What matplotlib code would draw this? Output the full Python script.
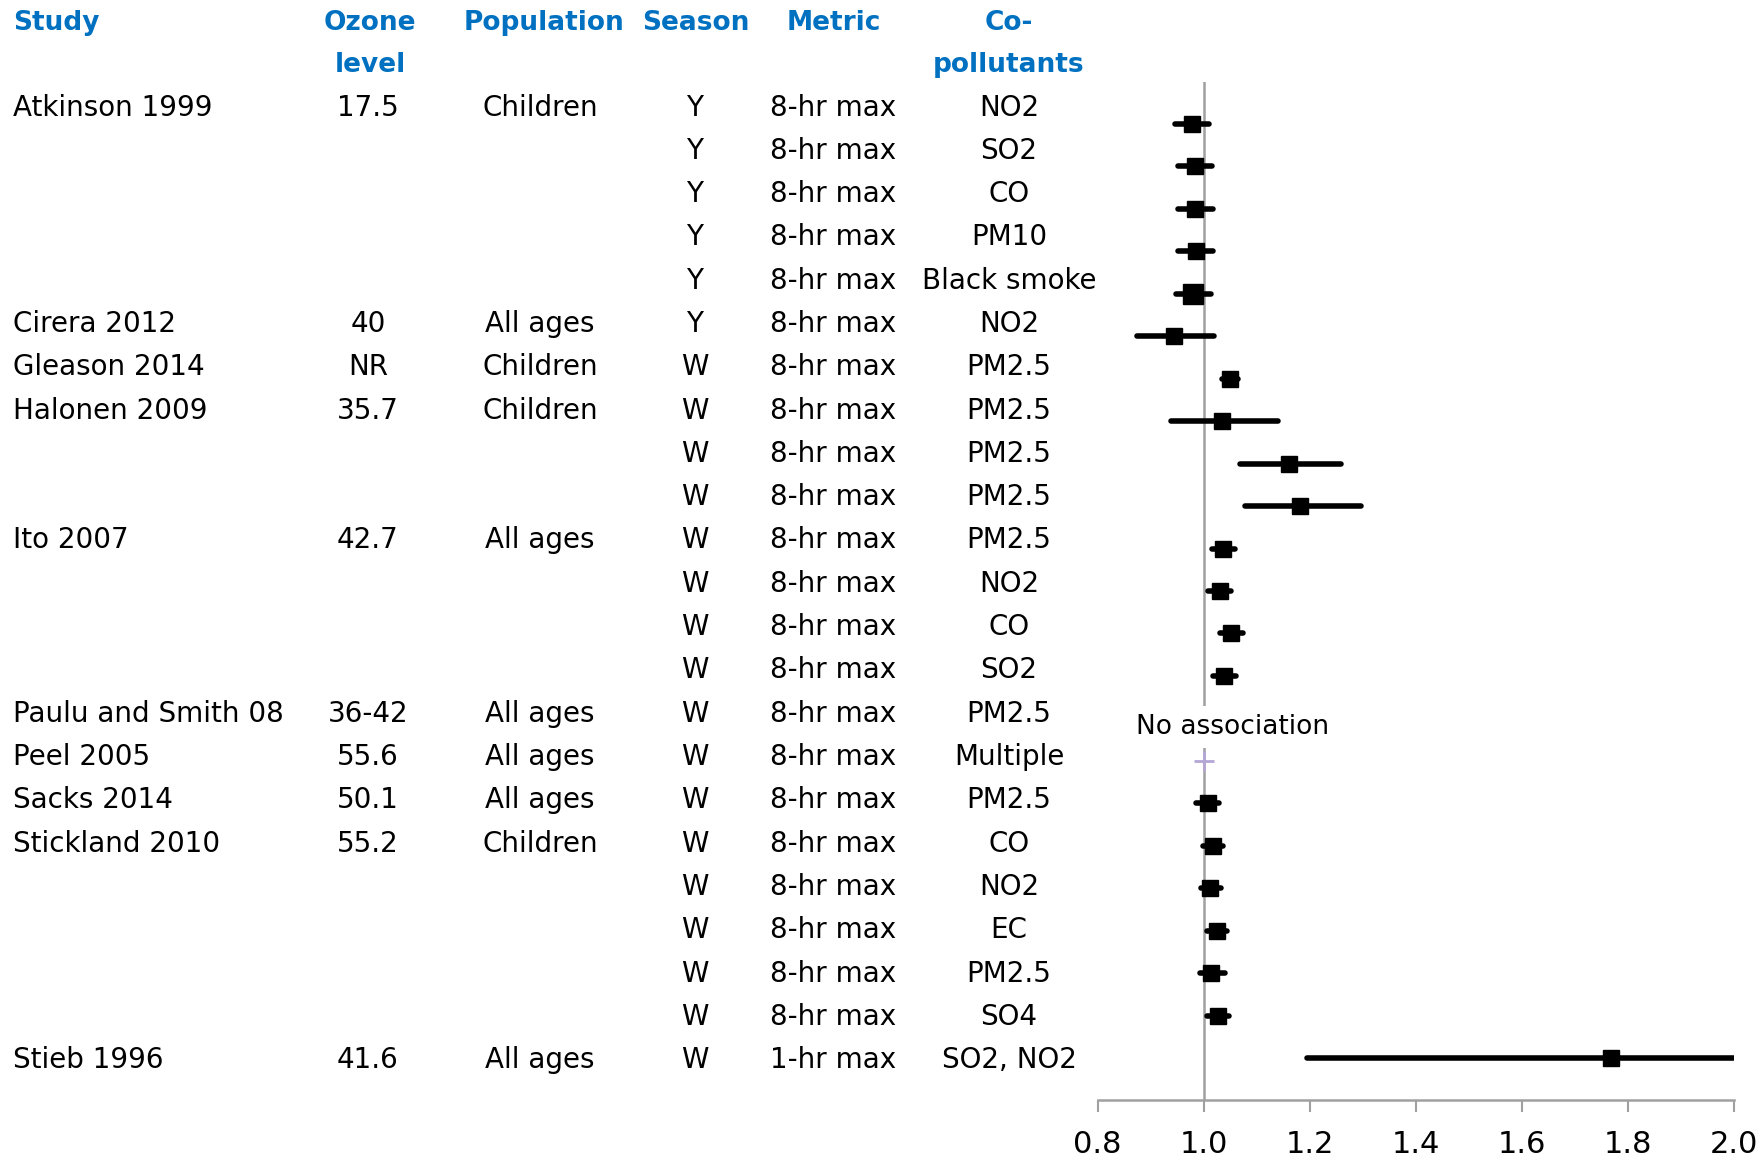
import numpy as np
import matplotlib
matplotlib.use('Agg')
import matplotlib.pyplot as plt

# table columns
study = ['Atkinson 1999', '', '', '', '', 'Cirera 2012', 'Gleason 2014', 'Halonen 2009', '', '',
         'Ito 2007', '', '', '', 'Paulu and Smith 08', 'Peel 2005', 'Sacks 2014', 'Stickland 2010',
         '', '', '', '', 'Stieb 1996']
ozone = ['17.5', '', '', '', '', '40', 'NR', '35.7', '', '', '42.7', '', '', '', '36-42', '55.6',
         '50.1', '55.2', '', '', '', '', '41.6']
population = ['Children', '', '', '', '', 'All ages', 'Children', 'Children', '', '', 'All ages',
              '', '', '', 'All ages', 'All ages', 'All ages', 'Children', '', '', '', '', 'All ages']
season = ['Y'] * 6 + ['W'] * 17
metric = ['8-hr max'] * 22 + ['1-hr max']
copoll = ['NO2', 'SO2', 'CO', 'PM10', 'Black smoke', 'NO2', 'PM2.5', 'PM2.5', 'PM2.5', 'PM2.5',
          'PM2.5', 'NO2', 'CO', 'SO2', 'PM2.5', 'Multiple', 'PM2.5', 'CO', 'NO2', 'EC', 'PM2.5',
          'SO4', 'SO2, NO2']

# effect estimates (nan = not shown)
est = [0.978, 0.983, 0.984, 0.985, 0.979, 0.943, 1.049, 1.034, 1.160, 1.181, 1.037, 1.030,
       1.051, 1.038, np.nan, np.nan, 1.007, 1.018, 1.012, 1.024, 1.014, 1.026, 1.768]
lo = [0.946, 0.951, 0.951, 0.951, 0.947, 0.874, 1.034, 0.939, 1.069, 1.077, 1.015, 1.008,
      1.030, 1.017, np.nan, np.nan, 0.986, 0.999, 0.995, 1.006, 0.992, 1.006, 1.194]
hi = [1.010, 1.015, 1.017, 1.018, 1.013, 1.019, 1.065, 1.139, 1.258, 1.297, 1.059, 1.051,
      1.073, 1.060, np.nan, np.nan, 1.029, 1.037, 1.032, 1.044, 1.040, 1.048, 2.62]
no_assoc_row = 15  # Peel 2005 plotted at 1.0
xticks = [0.8, 1.0, 1.2, 1.4, 1.6, 1.8, 2.0]

W, H = 1763, 1161
blue = '#0070C0'
grey = '#a0a0a0'
plt.rcParams['font.family'] = ['DejaVu Sans']

fig = plt.figure(figsize=(W / 100, H / 100), dpi=100)

# table part, in pixel units
tab = fig.add_axes([0, 0, 1, 1])
tab.set_xlim(0, W)
tab.set_ylim(H, 0)
tab.axis('off')

fs = 20
cols = [(13, 'left', study), (368, 'center', ozone), (540, 'center', population),
        (695, 'center', season), (833, 'center', metric), (1009, 'center', copoll)]
for i in range(len(study)):
    yb = 115.5 + 43.3 * i
    for cx, ha, vals in cols:
        tab.text(cx, yb, vals[i], ha=ha, va='baseline', fontsize=fs)

headers = [(13, 'left', 'Study', ''), (370, 'center', 'Ozone', 'level'),
           (544, 'center', 'Population', ''), (696, 'center', 'Season', ''),
           (834, 'center', 'Metric', ''), (1009, 'center', 'Co-', 'pollutants')]
for cx, ha, l1, l2 in headers:
    tab.text(cx, 30, l1, ha=ha, va='baseline', fontsize=19, color=blue, fontweight='bold')
    if l2:
        tab.text(cx, 72, l2, ha=ha, va='baseline', fontsize=19, color=blue, fontweight='bold')

# forest plot
ax = fig.add_axes([1097.7 / W, (H - 1100) / H, (1734.4 - 1097.7) / W, (1100 - 82) / H])
ax.patch.set_alpha(0)
y = np.arange(len(est))
ax.axvline(1.0, color=grey, lw=1.8, zorder=1)
eb = ax.hlines(y, lo, hi, color='black', lw=4, zorder=3)
eb.set_capstyle('round')
ms = [11.5] * len(est)
ms[4] = 15
for yi, e, m in zip(y, est, ms):
    if not np.isnan(e):
        ax.plot(e, yi, 's', color='black', ms=m, zorder=4)
ax.plot(1.0, y[no_assoc_row], '+', color='#b4a7d6', ms=14, mew=2, zorder=4)
ax.text(1.054, 14.2, 'No association', ha='center', va='center', fontsize=19, zorder=5,
        bbox=dict(boxstyle='square,pad=0.3', fc='white', ec='none'))

ax.set_xlim(0.8, 2.0)
ax.set_ylim(22.99, -0.99)
ax.set_xticks(xticks)
ax.set_xticklabels(['%.1f' % t for t in xticks])
ax.set_yticks([])
for s in ['top', 'right', 'left']:
    ax.spines[s].set_visible(False)
ax.spines['bottom'].set_color(grey)
ax.spines['bottom'].set_linewidth(1.8)
ax.tick_params(axis='x', direction='out', length=8.5, width=1.5, color=grey,
               labelsize=22, pad=13)

fig.savefig('out.png', dpi=100)
